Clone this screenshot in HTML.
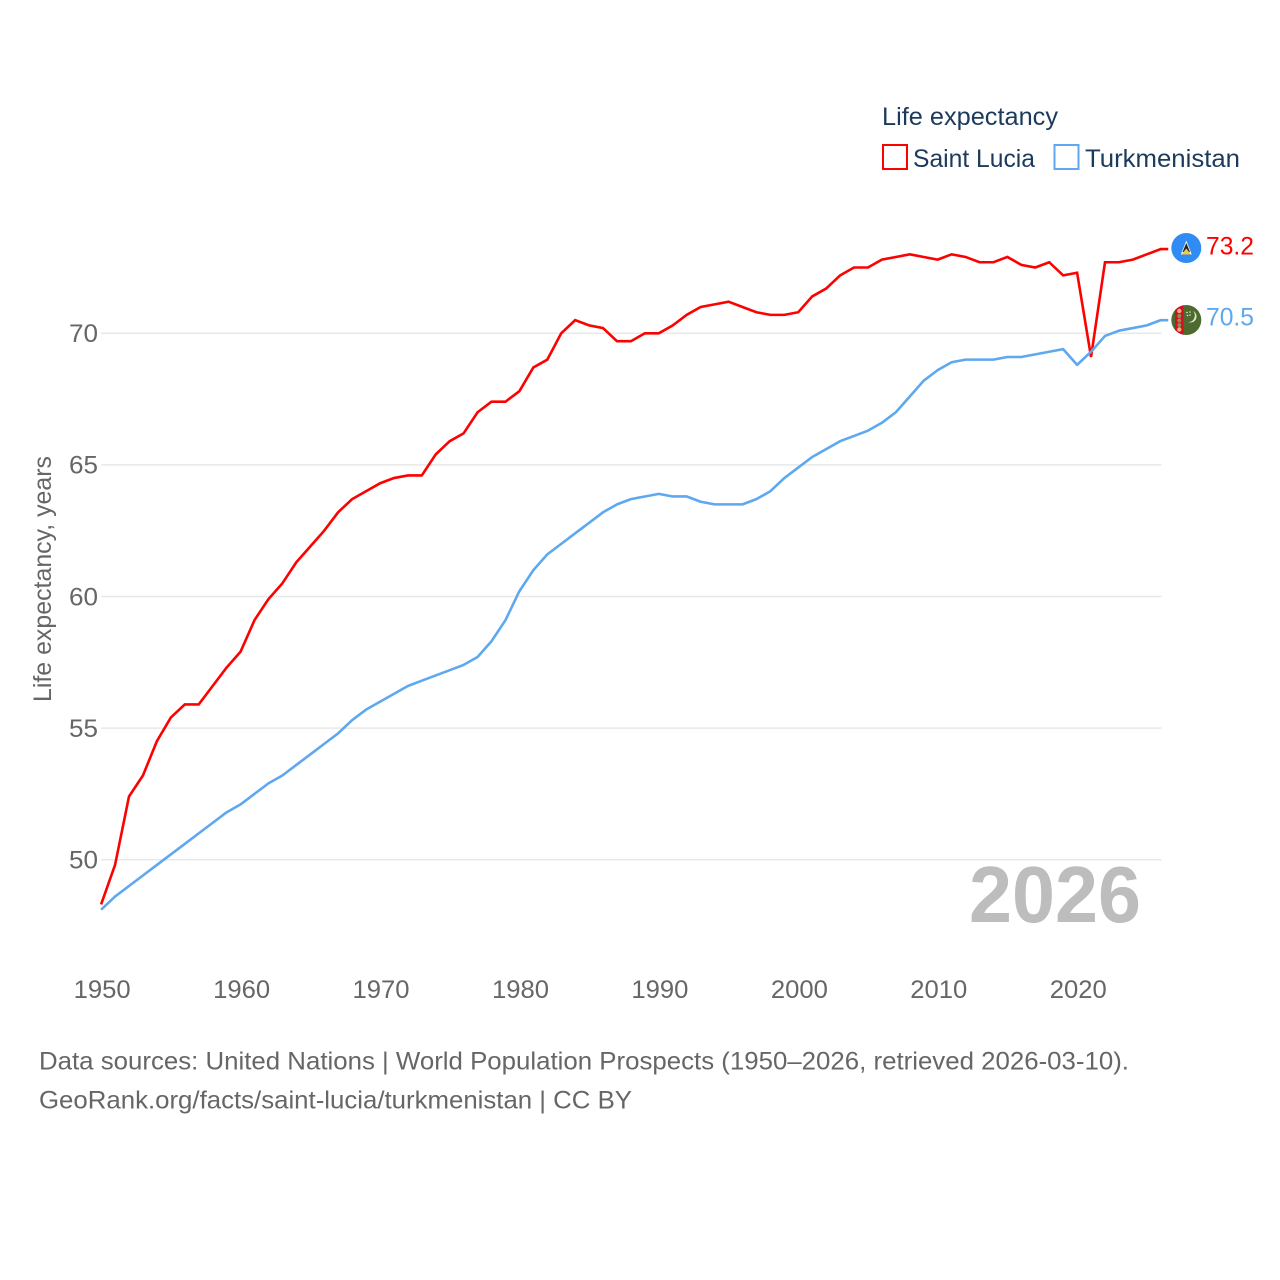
<!DOCTYPE html>
<html lang="en">
<head>
<meta charset="utf-8">
<title>Life expectancy: Saint Lucia and Turkmenistan</title>
<style>
html,body{margin:0;padding:0;background:#fff;}
svg{display:block;}
text{font-family:"Liberation Sans",sans-serif;}
</style>
</head>
<body>
<svg id="chart" xmlns="http://www.w3.org/2000/svg" width="1280" height="1280" viewBox="0 0 1280 1280">
  <rect width="1280" height="1280" fill="#fff"/>
  <g id="grid"></g>
  <g id="yticks"></g>
  <g id="xticks"></g>
  <text transform="translate(51,702) rotate(-90)" font-size="25" fill="#666" textLength="246" lengthAdjust="spacingAndGlyphs">Life expectancy, years</text>
  <text x="969" y="922" font-size="80" font-weight="bold" fill="#bdbdbd" textLength="172" lengthAdjust="spacingAndGlyphs">2026</text>
  <path id="line-lucia" fill="none" stroke="#ff0000" stroke-width="2.6" stroke-linejoin="miter"/>
  <path id="line-turkmenistan" fill="none" stroke="#5ea8f0" stroke-width="2.6" stroke-linejoin="round"/>

  <g id="flag-lucia">
    <circle cx="1186.300" cy="248" r="15" fill="#2f8cf2"/>
    <polygon points="1186.300,240.500 1191.800,254.500 1180.800,254.500" fill="#f4f4f4"/>
    <polygon points="1186.300,243 1190,252 1182.600,252" fill="#222"/>
    <polygon points="1186.300,248.500 1191,254.500 1181.600,254.500" fill="#f5c84a"/>
  </g>
  <g id="flag-turkmenistan">
    <defs><clipPath id="flag-clip"><circle cx="1186.300" cy="320" r="15"/></clipPath></defs>
    <circle cx="1186.300" cy="320" r="15" fill="#4d6b2e"/>
    <rect x="1175" y="305" width="8.500" height="30" fill="#cf1029" clip-path="url(#flag-clip)"/>
    <circle cx="1179.300" cy="311" r="2.200" fill="#f0b070"/>
    <circle cx="1179.300" cy="316" r="2" fill="#8d8f4a"/>
    <circle cx="1179.300" cy="320.500" r="2" fill="#8d8f4a"/>
    <circle cx="1179.300" cy="325" r="2" fill="#8d8f4a"/>
    <circle cx="1179.300" cy="329.500" r="2.200" fill="#f0b070"/>
    <path d="M1193 311 a6.500 6.500 0 0 1 -5 11 a5.500 5.500 0 0 0 5 -11z" fill="#dfe6d6"/>
    <circle cx="1187" cy="312.500" r="0.800" fill="#dfe6d6"/>
    <circle cx="1190" cy="312" r="0.800" fill="#dfe6d6"/>
    <circle cx="1187.500" cy="315.500" r="0.800" fill="#dfe6d6"/>
    <circle cx="1190" cy="315" r="0.800" fill="#dfe6d6"/>
  </g>
  <text x="1206" y="254.500" font-size="25" fill="#ff0000" textLength="48" lengthAdjust="spacingAndGlyphs">73.2</text>
  <text x="1206" y="325.500" font-size="25" fill="#5ea8f0" textLength="48" lengthAdjust="spacingAndGlyphs">70.5</text>

  <g>
    <text x="882" y="125" font-size="25" fill="#1b3a5c" textLength="176" lengthAdjust="spacingAndGlyphs">Life expectancy</text>
    <rect x="883" y="145" width="24" height="24" fill="#fff" stroke="#ff0000" stroke-width="2"/>
    <text x="913" y="167" font-size="25" fill="#1b3a5c" textLength="122" lengthAdjust="spacingAndGlyphs">Saint Lucia</text>
    <rect x="1054.500" y="145" width="24" height="24" fill="#fff" stroke="#5ea8f0" stroke-width="2"/>
    <text x="1085" y="167" font-size="25" fill="#1b3a5c" textLength="155" lengthAdjust="spacingAndGlyphs">Turkmenistan</text>
  </g>

  <text x="39" y="1069.500" font-size="25" fill="#666" textLength="1090" lengthAdjust="spacingAndGlyphs">Data sources: United Nations | World Population Prospects (1950–2026, retrieved 2026-03-10).</text>
  <text x="39" y="1108.500" font-size="25" fill="#666" textLength="593" lengthAdjust="spacingAndGlyphs">GeoRank.org/facts/saint-lucia/turkmenistan | CC BY</text>
</svg>
<script>
const firstYear = 1950;
const saintLucia = [48.3,49.8,52.4,53.2,54.5,55.4,55.9,55.9,56.6,57.3,57.9,59.1,59.9,60.5,61.3,61.9,62.5,63.2,63.7,64.0,64.3,64.5,64.6,64.6,65.4,65.9,66.2,67.0,67.4,67.4,67.8,68.7,69.0,70.0,70.5,70.3,70.2,69.7,69.7,70.0,70.0,70.3,70.7,71.0,71.1,71.2,71.0,70.8,70.7,70.7,70.8,71.4,71.7,72.2,72.5,72.5,72.8,72.9,73.0,72.9,72.8,73.0,72.9,72.7,72.7,72.9,72.6,72.5,72.7,72.2,72.3,69.1,72.7,72.7,72.8,73.0,73.2];
const turkmenistan = [48.1,48.6,49.0,49.4,49.8,50.2,50.6,51.0,51.4,51.8,52.1,52.5,52.9,53.2,53.6,54.0,54.4,54.8,55.3,55.7,56.0,56.3,56.6,56.8,57.0,57.2,57.4,57.7,58.3,59.1,60.2,61.0,61.6,62.0,62.4,62.8,63.2,63.5,63.7,63.8,63.9,63.8,63.8,63.6,63.5,63.5,63.5,63.7,64.0,64.5,64.9,65.3,65.6,65.9,66.1,66.3,66.6,67.0,67.6,68.2,68.6,68.9,69.0,69.0,69.0,69.1,69.1,69.2,69.3,69.4,68.8,69.3,69.9,70.1,70.2,70.3,70.5];
const yTickValues = [50,55,60,65,70];
const xTickValues = [1950,1960,1970,1980,1990,2000,2010,2020];

const SVG_NS = 'http://www.w3.org/2000/svg';
function xScale(year){ return 101.1 + (year - 1950) * 13.943; }
function yScale(v){ return 859.7 - (v - 50) * 26.32; }

function linePath(values){
  let d = '';
  values.forEach(function(v,i){
    d += (i ? 'L' : 'M') + xScale(firstYear + i).toFixed(2) + ' ' + yScale(v).toFixed(2);
  });
  const last = values[values.length - 1];
  d += 'L' + (xScale(firstYear + values.length - 1) + 7.5).toFixed(2) + ' ' + yScale(last).toFixed(2);
  return d;
}
document.getElementById('line-lucia').setAttribute('d', linePath(saintLucia));
document.getElementById('line-turkmenistan').setAttribute('d', linePath(turkmenistan));

const grid = document.getElementById('grid');
const yTicks = document.getElementById('yticks');
yTickValues.forEach(function(v){
  const g = document.createElementNS(SVG_NS,'line');
  
  
  g.setAttribute('x1', 101.1);
  g.setAttribute('x2', 1161.5);
  g.setAttribute('y1', yScale(v));
  g.setAttribute('y2', yScale(v));
  g.setAttribute('stroke', '#e8e8e8');
  g.setAttribute('stroke-width', '1.5');
  grid.appendChild(g);
  const t = document.createElementNS(SVG_NS,'text');
  
  
  t.setAttribute('x', 98);
  t.setAttribute('y', yScale(v) + 8.8);
  t.setAttribute('text-anchor', 'end');
  t.setAttribute('font-size', '25');
  t.setAttribute('fill', '#666');
  t.setAttribute('textLength', '29');
  t.setAttribute('lengthAdjust', 'spacingAndGlyphs');
  t.textContent = String(v);
  yTicks.appendChild(t);
});

const xTicks = document.getElementById('xticks');
xTickValues.forEach(function(year){
  const t = document.createElementNS(SVG_NS,'text');
  
  
  t.setAttribute('x', xScale(year) - 27.4);
  t.setAttribute('y', 998);
  t.setAttribute('font-size', '25');
  t.setAttribute('fill', '#666');
  t.setAttribute('textLength', '57');
  t.setAttribute('lengthAdjust', 'spacingAndGlyphs');
  t.textContent = String(year);
  xTicks.appendChild(t);
});
</script>
</body>
</html>
